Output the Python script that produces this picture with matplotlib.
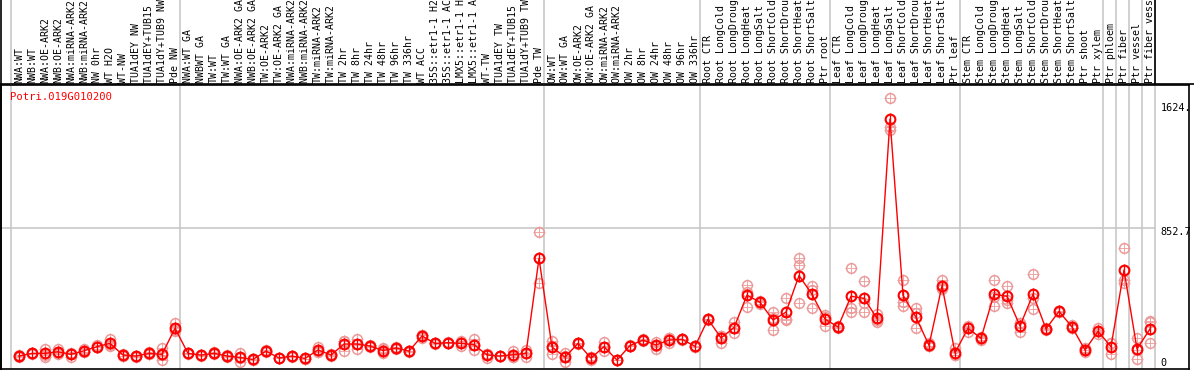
import matplotlib
matplotlib.use("Agg")
import matplotlib.pyplot as plt
import matplotlib.transforms as mtransforms

# sample names, one group per block of the chart
nw = ["NWA:WT", "NWB:WT", "NWA:OE-ARK2", "NWB:OE-ARK2", "NWA:miRNA-ARK2",
      "NWB:miRNA-ARK2", "NW 0hr", "WT H2O", "WT-NW", "TUA1dEY NW",
      "TUA1dEY+TUB15 NW", "TUA1dY+TUB9 NW", "Pde NW"]
tw = ["NWA:WT GA", "NWBWT GA", "TW:WT", "TW:WT GA", "NWA:OE-ARK2 GA",
      "NWB:OE-ARK2 GA", "TW:OE-ARK2", "TW:OE-ARK2 GA", "NWA:miRNA-ARK2 GA",
      "NWB:miRNA-ARK2 GA", "TW:miRNA-ARK2", "TW:miRNA-ARK2 GA", "TW 2hr",
      "TW 8hr", "TW 24hr", "TW 48hr", "TW 96hr", "TW 336hr", "WT ACC",
      "35S::etr1-1 H2O", "35S::etr1-1 ACC", "LMX5::etr1-1 H2O",
      "LMX5::etr1-1 ACC", "WT-TW", "TUA1dEY TW", "TUA1dEY+TUB15 TW",
      "TUA1dY+TUB9 TW", "Pde TW"]
ow = ["OW:WT", "OW:WT GA", "OW:OE-ARK2", "OW:OE-ARK2 GA", "OW:miRNA-ARK2",
      "OW:miRNA-ARK2 GA", "OW 2hr", "OW 8hr", "OW 24hr", "OW 48hr", "OW 96hr",
      "OW 336hr"]
root = ["Root CTR", "Root LongCold", "Root LongDrought", "Root LongHeat",
        "Root LongSalt", "Root ShortCold", "Root ShortDrought", "Root ShortHeat",
        "Root ShortSalt", "Ptr root"]
leaf = ["Leaf CTR", "Leaf LongCold", "Leaf LongDrought", "Leaf LongHeat",
        "Leaf LongSalt", "Leaf ShortCold", "Leaf ShortDrought", "Leaf ShortHeat",
        "Leaf ShortSalt", "Ptr leaf"]
stem = ["Stem CTR", "Stem LongCold", "Stem LongDrought", "Stem LongHeat",
        "Stem LongSalt", "Stem ShortCold", "Stem ShortDrought", "Stem ShortHeat",
        "Stem ShortSalt", "Ptr shoot", "Ptr xylem"]
ptr = ["Ptr phloem", "Ptr fiber", "Ptr vessel", "Ptr fiber vessel"]
groups = [nw, tw, ow, root, leaf, stem, ["Ptr phloem"], ["Ptr fiber"],
          ["Ptr vessel"], ["Ptr fiber vessel"]]
samples = nw + tw + ow + root + leaf + stem + ptr

# mean expression per sample
means = [73, 89, 89, 99, 83, 105, 130, 150, 79, 73, 89, 83, 242,
         89, 79, 89, 73, 64, 52, 103, 61, 73, 58, 110, 79, 146, 146, 134, 106,
         122, 103, 195, 150, 154, 150, 142, 79, 73, 81, 89, 668,
         128, 66, 150, 60, 130, 48, 137, 170, 140, 170, 175, 132,
         297, 183, 246, 444, 400, 292, 340, 563, 449, 298,
         250, 437, 424, 302, 1515, 443, 309, 138, 501, 93,
         242, 181, 449, 437, 256, 449, 238, 345, 250, 110, 223,
         130, 597, 116, 238]

# replicate values per sample
reps = [[65, 75, 80], [85, 92, 90], [118, 80, 69], [114, 95, 88], [69, 88, 92],
        [115, 100, 100], [140, 125, 125], [175, 140, 135], [88, 75, 74],
        [73, 70, 76], [95, 85, 87], [120, 80, 49], [272, 230, 224],
        [92, 86, 89], [82, 76, 79], [95, 83, 89], [78, 70, 71], [89, 62, 38],
        [52, 46, 49], [108, 100, 101], [60, 58, 59], [76, 70, 73], [55, 54, 56],
        [130, 100, 100], [85, 75, 77], [166, 166, 105], [175, 148, 116],
        [138, 130, 134], [93, 118, 119], [125, 115, 120], [105, 100, 104],
        [181, 200, 204], [150, 148, 152], [160, 150, 152], [166, 150, 134],
        [175, 142, 110], [61, 88, 88], [75, 71, 73], [105, 70, 68],
        [110, 92, 65], [826, 668, 516],
        [162, 131, 85], [89, 74, 38], [155, 145, 150], [49, 70, 70],
        [156, 130, 103], [50, 46, 51], [140, 132, 136], [175, 165, 170],
        [160, 134, 114], [150, 180, 180], [178, 172, 175], [132, 128, 130],
        [296, 294, 298], [150, 196, 197], [282, 246, 211], [505, 460, 370],
        [410, 400, 390], [339, 305, 231], [424, 301, 292], [668, 627, 394],
        [499, 475, 367], [323, 312, 258],
        [256, 250, 244], [607, 363, 339], [530, 394, 339], [327, 292, 282],
        [1643, 1470, 1450], [534, 400, 380], [363, 333, 242], [150, 132, 132],
        [536, 485, 482], [120, 80, 79],
        [258, 247, 221], [190, 181, 172], [534, 434, 380], [499, 414, 398],
        [272, 275, 221], [570, 424, 357], [245, 238, 232], [350, 342, 343],
        [262, 245, 243], [120, 110, 99], [241, 223, 205],
        [154, 153, 83], [729, 536, 516], [185, 110, 53], [278, 285, 150]]

gene = "Potri.019G010200"
tick_vals = [0, 852.7, 1624]
tick_text = ["0", "852.7", "1624."]

W, H = 1194, 370
fig = plt.figure(figsize=(W / 100, H / 100), dpi=100)
mono = "DejaVu Sans Mono"
fs = 7.1

# main plot area, pixel box 1..1189 x 85..369
ax = fig.add_axes([1 / W, 1 / H, 1188 / W, 284 / H])
ax.set_xlim(-1.385, 90.0)
ax.set_ylim(-6.1, 1723.7)
ax.set_xticks([])
ax.set_yticks([])
for s in ax.spines.values():
    s.set_color("black")
    s.set_linewidth(1.2)

x = list(range(len(samples)))
right_edge = len(samples) - 0.6

# group separators
bounds = [-0.6]
pos = 0
for g in groups:
    pos += len(g)
    bounds.append(pos - 0.6)
for b in bounds:
    ax.axvline(b, color="#c8c8c8", lw=1.2, zorder=0)
ax.plot([-1.385, right_edge], [852.7, 852.7], color="#c8c8c8", lw=1.2, zorder=0)

for i, r in enumerate(reps):
    ax.plot([i] * len(r), r, "o", ms=7, mfc="none", mec="#ec9a9a", mew=1.1, zorder=2)
    ax.plot([i] * len(r), r, "+", ms=9, mec="#ec9a9a", mew=0.6, zorder=2)

ax.plot(x, means, "-", color="red", lw=1, zorder=3)
ax.plot(x, means, "o", ms=7, mfc="none", mec="red", mew=1.5, zorder=4)
ax.plot(x, means, "|", ms=9, mec="red", mew=1.0, zorder=4)

# right-hand scale labels
label_y = {0: 0, 852.7: 828, 1624: 1583}
for v, t in zip(tick_vals, tick_text):
    va = "bottom" if v == 0 else "center"
    ax.text(87.8, label_y[v], t, fontsize=fs + 0.2, family=mono, ha="left", va=va)

ax.text(-0.7, 1650, gene, color="red", fontsize=fs + 0.5, family=mono,
        ha="left", va="center")

# sample labels above the plot
trans = mtransforms.blended_transform_factory(ax.transData, fig.transFigure)
for i, name in enumerate(samples):
    fig.text(i, 1 - 83 / H, name, transform=trans, rotation=90, fontsize=fs,
             family=mono, ha="center", va="bottom")
for b in bounds:
    fig.add_artist(plt.Line2D([b, b], [1 - 84 / H, 1], transform=trans,
                              color="#c8c8c8", lw=1.2))
fig.add_artist(plt.Line2D([right_edge, right_edge], [1 - 84 / H, 1],
                          transform=trans, color="black", lw=1.2))
fig.add_artist(plt.Line2D([1 / W, 1 / W], [0, 1], color="black", lw=1.2))
fig.add_artist(plt.Line2D([0, 1], [1 - 84 / H, 1 - 84 / H], color="black", lw=1.2))

fig.savefig("out.png", dpi=100)
